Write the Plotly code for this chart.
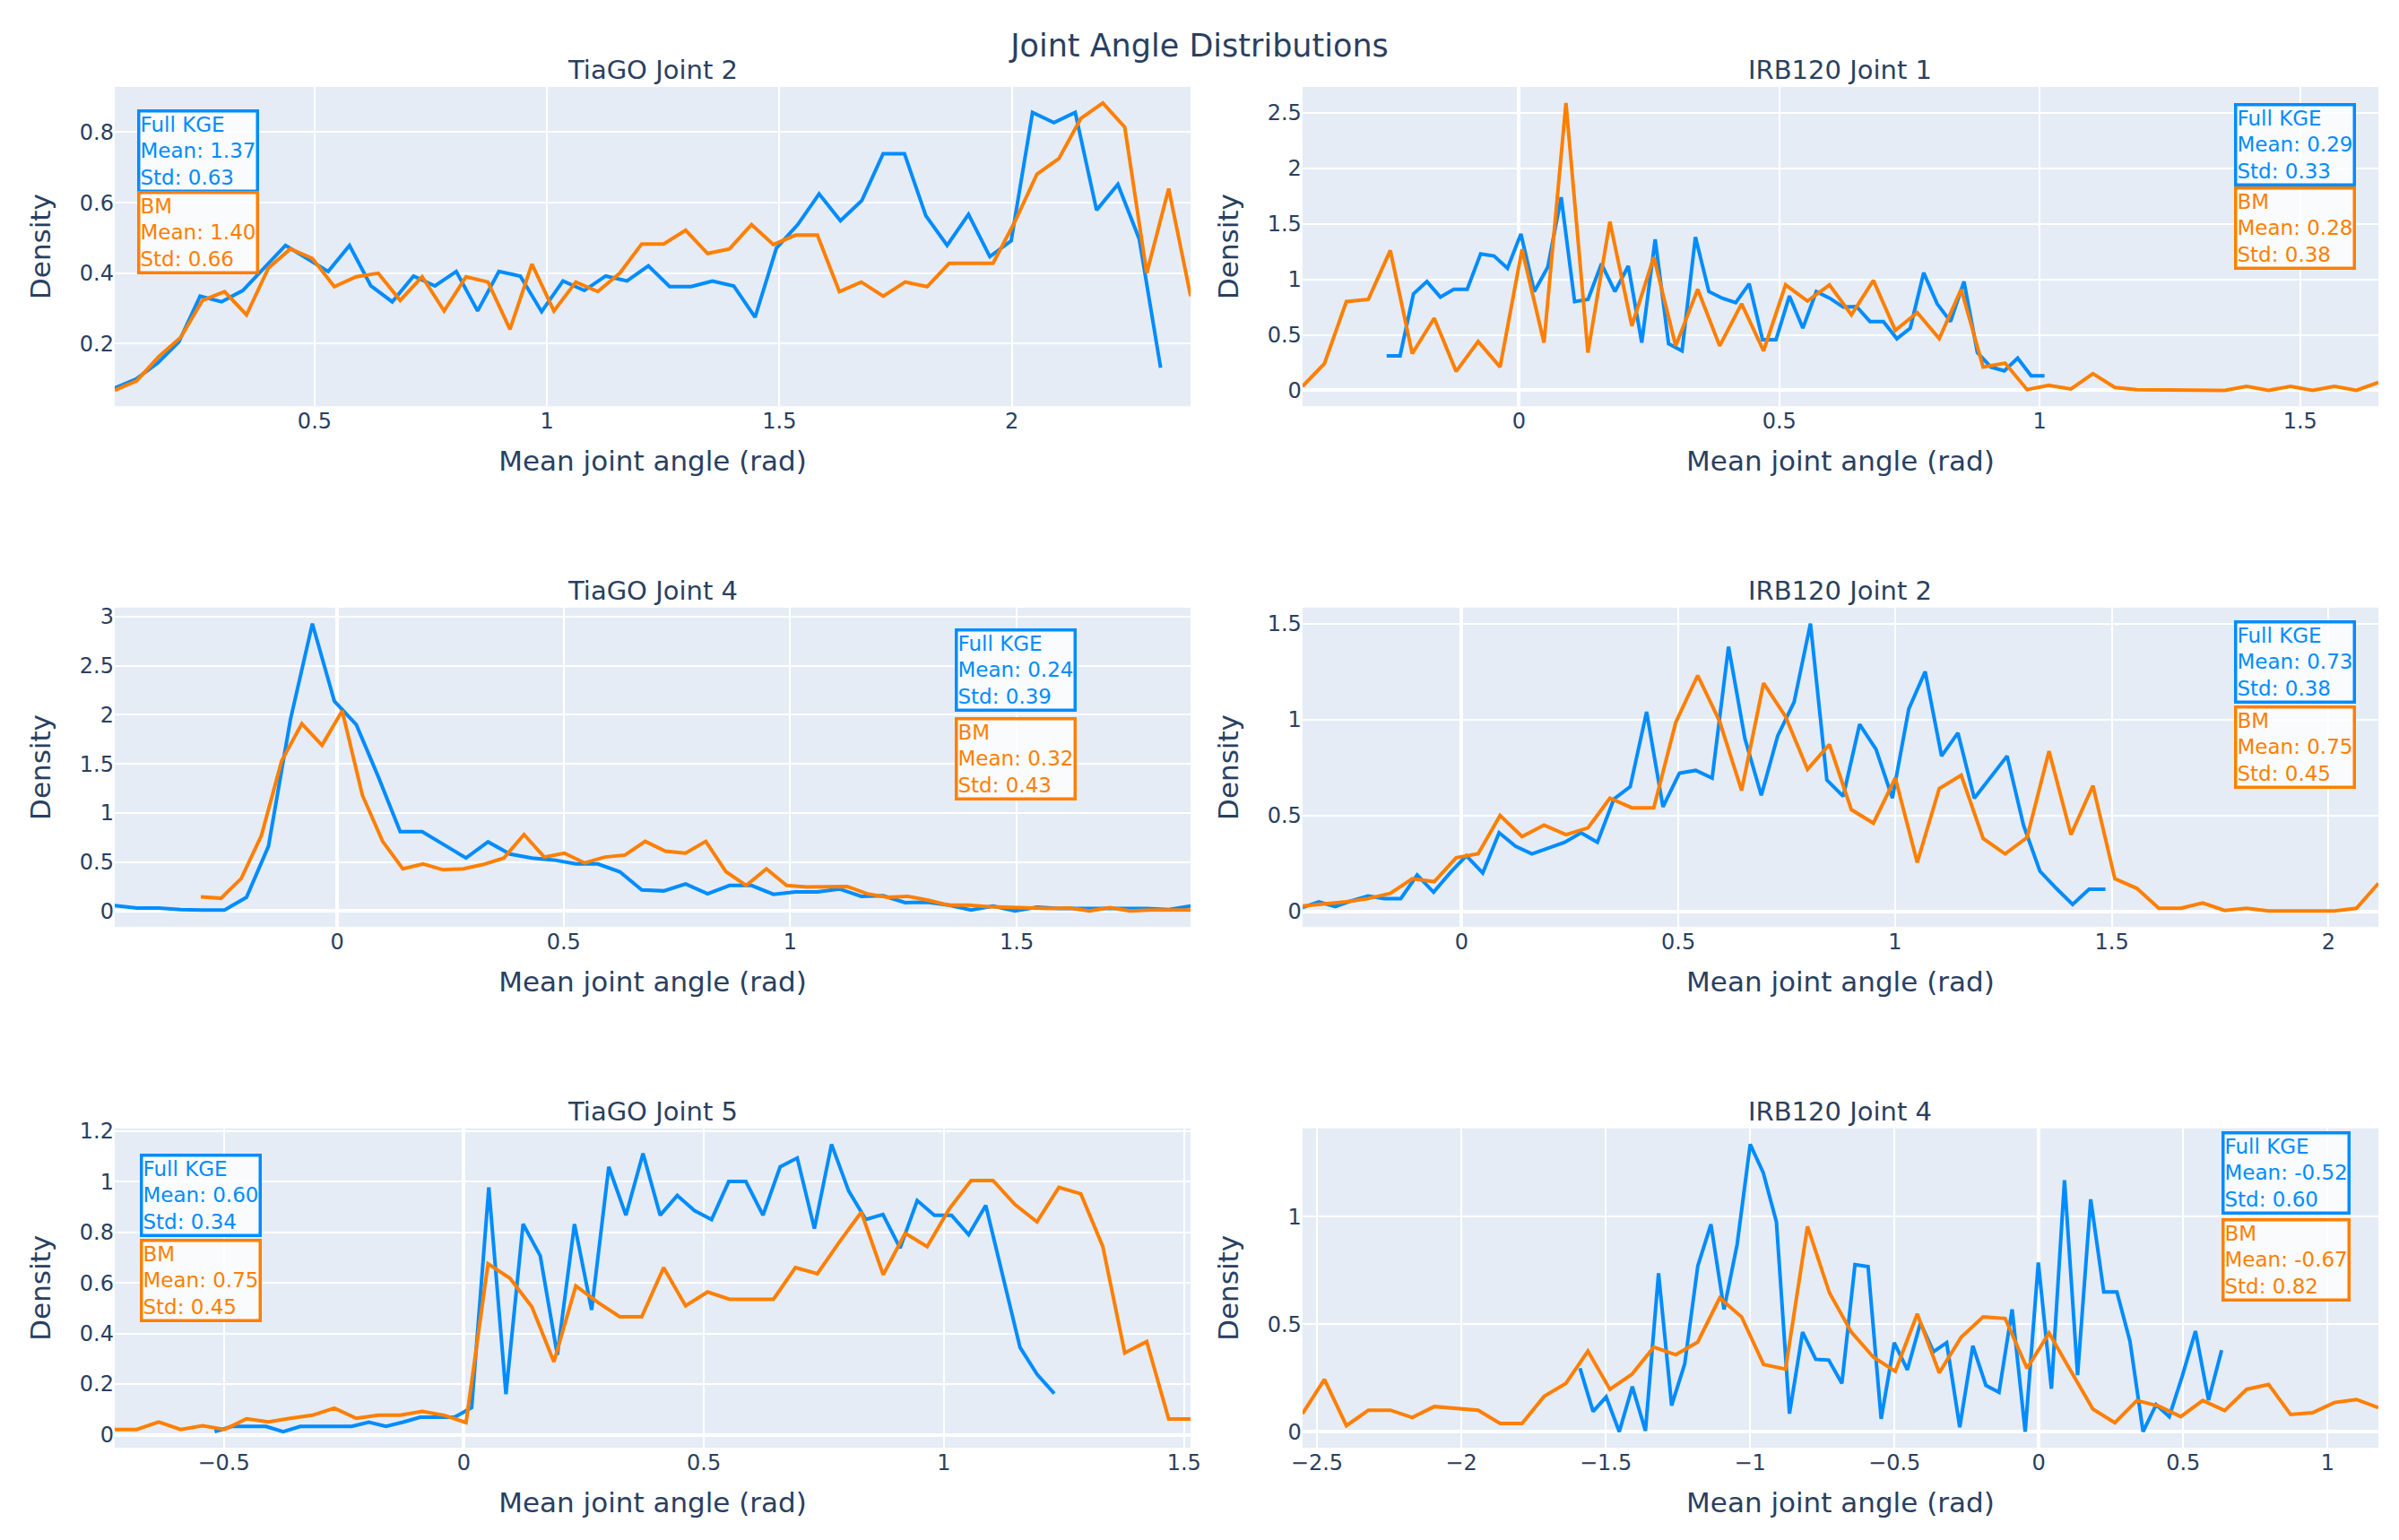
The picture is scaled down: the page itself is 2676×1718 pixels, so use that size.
import plotly.graph_objects as go
from plotly.subplots import make_subplots

# ---------------- data ----------------
subplot_titles = ["TiaGO Joint 2", "IRB120 Joint 1", "TiaGO Joint 4",
                  "IRB120 Joint 2", "TiaGO Joint 5", "IRB120 Joint 4"]
series_names = ["Full KGE", "BM"]

# histogram bin centres: first centre and bin width per series
kge_x0 = [0.070, -0.254, -0.491, -0.367, -0.519, -1.589]
kge_dx = [0.04592, 0.02578, 0.04847, 0.0378, 0.03569, 0.04535]
bm_x0 = [0.070, -0.4156, -0.301, -0.367, -0.727, -2.550]
bm_dx = [0.04724, 0.04216, 0.04459, 0.05065, 0.04573, 0.07604]

tiago_j2_kge = [0.074, 0.10, 0.145, 0.205, 0.335, 0.319, 0.351, 0.415, 0.479, 0.442,
                0.405, 0.479, 0.364, 0.319, 0.392, 0.364, 0.405, 0.293, 0.405, 0.392,
                0.291, 0.378, 0.351, 0.392, 0.378, 0.421, 0.362, 0.362, 0.378, 0.364,
                0.275, 0.471, 0.538, 0.625, 0.549, 0.606, 0.739, 0.739, 0.563, 0.479,
                0.567, 0.447, 0.492, 0.856, 0.827, 0.856, 0.579, 0.652, 0.497, 0.132]
tiago_j2_bm = [0.068, 0.095, 0.163, 0.218, 0.323, 0.348, 0.282, 0.415, 0.469, 0.442,
               0.362, 0.39, 0.40, 0.323, 0.39, 0.293, 0.39, 0.375, 0.241, 0.426,
               0.293, 0.375, 0.348, 0.40, 0.483, 0.483, 0.522, 0.456, 0.469, 0.538,
               0.481, 0.508, 0.508, 0.348, 0.375, 0.335, 0.375, 0.362, 0.428, 0.428,
               0.428, 0.547, 0.681, 0.725, 0.839, 0.883, 0.814, 0.40, 0.640, 0.335]

irb_j1_kge = [0.31, 0.31, 0.87, 0.98, 0.84, 0.91, 0.91, 1.23, 1.21, 1.10,
              1.41, 0.89, 1.11, 1.74, 0.80, 0.82, 1.14, 0.89, 1.12, 0.43,
              1.36, 0.42, 0.355, 1.38, 0.89, 0.83, 0.79, 0.96, 0.455, 0.455,
              0.85, 0.56, 0.89, 0.83, 0.75, 0.755, 0.62, 0.62, 0.465, 0.56,
              1.06, 0.78, 0.62, 0.98, 0.34, 0.21, 0.175, 0.29, 0.13, 0.13]
irb_j1_bm = [0.035, 0.24, 0.80, 0.82, 1.26, 0.33, 0.65, 0.17, 0.44, 0.21,
             1.27, 0.43, 2.59, 0.34, 1.52, 0.58, 1.20, 0.40, 0.91, 0.40,
             0.78, 0.355, 0.95, 0.805, 0.95, 0.68, 0.99, 0.54, 0.70, 0.465,
             0.91, 0.21, 0.245, 0.006, 0.045, 0.012, 0.15, 0.026, 0.006, 0.005,
             0.005, 0.005, 0.0, 0.035, 0.0, 0.035, 0.0, 0.035, 0.0, 0.07]

tiago_j4_kge = [0.055, 0.03, 0.03, 0.015, 0.01, 0.01, 0.14, 0.66, 1.95, 2.93,
                2.14, 1.90, 1.37, 0.81, 0.81, 0.675, 0.54, 0.705, 0.58, 0.54,
                0.52, 0.48, 0.48, 0.40, 0.215, 0.205, 0.275, 0.175, 0.26, 0.26,
                0.17, 0.195, 0.195, 0.225, 0.15, 0.155, 0.085, 0.09, 0.06, 0.01,
                0.05, 0.0, 0.04, 0.025, 0.025, 0.025, 0.025, 0.025, 0.015, 0.05]
tiago_j4_bm = [0.145, 0.13, 0.33, 0.77, 1.53, 1.91, 1.69, 2.04, 1.18, 0.71,
               0.43, 0.48, 0.42, 0.43, 0.475, 0.54, 0.78, 0.55, 0.59, 0.49,
               0.55, 0.57, 0.71, 0.61, 0.59, 0.71, 0.40, 0.26, 0.43, 0.26,
               0.245, 0.245, 0.25, 0.175, 0.14, 0.15, 0.11, 0.06, 0.06, 0.045,
               0.04, 0.03, 0.025, 0.03, 0.0, 0.035, 0.0, 0.01, 0.01, 0.01]

irb_j2_kge = [0.02, 0.05, 0.025, 0.055, 0.08, 0.067, 0.067, 0.19, 0.10, 0.20,
              0.29, 0.20, 0.41, 0.34, 0.30, 0.33, 0.36, 0.41, 0.36, 0.585,
              0.65, 1.04, 0.545, 0.72, 0.735, 0.695, 1.38, 0.90, 0.605, 0.915,
              1.09, 1.50, 0.685, 0.60, 0.975, 0.845, 0.59, 1.055, 1.25, 0.81,
              0.93, 0.59, 0.70, 0.81, 0.45, 0.21, 0.12, 0.036, 0.115, 0.115]
irb_j2_bm = [0.028, 0.04, 0.05, 0.067, 0.094, 0.17, 0.155, 0.28, 0.30, 0.50,
             0.39, 0.45, 0.40, 0.435, 0.59, 0.54, 0.54, 0.985, 1.23, 0.99,
             0.63, 1.19, 1.015, 0.74, 0.87, 0.53, 0.46, 0.695, 0.255, 0.64,
             0.71, 0.38, 0.30, 0.385, 0.835, 0.40, 0.655, 0.17, 0.12, 0.016,
             0.016, 0.044, 0.005, 0.016, 0.002, 0.002, 0.002, 0.002, 0.016, 0.146]

tiago_j5_kge = [0.012, 0.033, 0.033, 0.033, 0.012, 0.033, 0.033, 0.033, 0.033, 0.05,
                0.033, 0.05, 0.069, 0.069, 0.069, 0.107, 0.977, 0.16, 0.832, 0.707,
                0.315, 0.832, 0.493, 1.058, 0.867, 1.111, 0.867, 0.945, 0.885, 0.85,
                1.0, 1.0, 0.867, 1.058, 1.093, 0.814, 1.147, 0.963, 0.85, 0.87,
                0.737, 0.925, 0.867, 0.867, 0.79, 0.906, 0.618, 0.345, 0.238, 0.163]
tiago_j5_bm = [0.021, 0.021, 0.05, 0.021, 0.036, 0.021, 0.063, 0.051, 0.065, 0.077,
               0.105, 0.065, 0.077, 0.077, 0.092, 0.077, 0.048, 0.675, 0.618, 0.505,
               0.288, 0.588, 0.523, 0.466, 0.466, 0.66, 0.509, 0.564, 0.535, 0.535,
               0.535, 0.66, 0.636, 0.761, 0.879, 0.632, 0.796, 0.743, 0.891, 1.004,
               1.004, 0.909, 0.841, 0.977, 0.951, 0.743, 0.323, 0.368, 0.062, 0.062]

irb_j4_kge = [0.295, 0.094, 0.162, 0.0, 0.21, 0.004, 0.737, 0.122, 0.316, 0.772,
              0.965, 0.569, 0.871, 1.337, 1.204, 0.976, 0.084, 0.463, 0.337, 0.333,
              0.225, 0.777, 0.768, 0.06, 0.414, 0.288, 0.506, 0.372, 0.414, 0.021,
              0.40, 0.215, 0.183, 0.569, 0.0, 0.787, 0.20, 1.17, 0.263, 1.081,
              0.65, 0.65, 0.421, 0.0, 0.126, 0.07, 0.26, 0.468, 0.147, 0.379]
irb_j4_bm = [0.084, 0.243, 0.028, 0.10, 0.10, 0.066, 0.117, 0.108, 0.10, 0.038,
             0.038, 0.164, 0.225, 0.375, 0.197, 0.267, 0.393, 0.358, 0.417, 0.622,
             0.534, 0.313, 0.291, 0.955, 0.646, 0.463, 0.347, 0.281, 0.548, 0.274,
             0.44, 0.534, 0.527, 0.295, 0.459, 0.281, 0.105, 0.042, 0.145, 0.119,
             0.07, 0.145, 0.098, 0.197, 0.22, 0.08, 0.088, 0.136, 0.15, 0.112]

kge_values = [tiago_j2_kge, irb_j1_kge, tiago_j4_kge, irb_j2_kge, tiago_j5_kge, irb_j4_kge]
bm_values = [tiago_j2_bm, irb_j1_bm, tiago_j4_bm, irb_j2_bm, tiago_j5_bm, irb_j4_bm]

kge_mean = [1.37, 0.29, 0.24, 0.73, 0.60, -0.52]
kge_std = [0.63, 0.33, 0.39, 0.38, 0.34, 0.60]
bm_mean = [1.40, 0.28, 0.32, 0.75, 0.75, -0.67]
bm_std = [0.66, 0.38, 0.43, 0.45, 0.45, 0.82]

y_dtick = [0.2, 0.5, 0.5, 0.5, 0.2, 0.5]

# ---------------- styling ----------------
FONT = "DejaVu Sans"
BLUE = "rgb(0,140,255)"
ORANGE = "rgb(255,127,0)"
TXT = "#2a3f5f"

# box placement in axis-domain fractions (x, xanchor, y_kge, y_bm)
box_pos = [(0.0206, "left", 0.931, 0.674),
           (0.979, "right", 0.9495, 0.6875),
           (0.781, "left", 0.9345, 0.658),
           (0.979, "right", 0.96, 0.695),
           (0.0235, "left", 0.922, 0.654),
           (0.974, "right", 0.99, 0.719)]

fig = make_subplots(rows=3, cols=2, subplot_titles=subplot_titles,
                    horizontal_spacing=0.0494, vertical_spacing=0.148)

for i in range(6):
    r, c = i // 2 + 1, i % 2 + 1
    fig.add_trace(go.Scatter(y=kge_values[i], x0=kge_x0[i], dx=kge_dx[i], mode="lines",
                             name=series_names[0], line=dict(color=BLUE, width=4),
                             showlegend=False), row=r, col=c)
    fig.add_trace(go.Scatter(y=bm_values[i], x0=bm_x0[i], dx=bm_dx[i], mode="lines",
                             name=series_names[1], line=dict(color=ORANGE, width=4),
                             showlegend=False), row=r, col=c)
    fig.update_xaxes(dtick=0.5, tick0=0, row=r, col=c)
    fig.update_yaxes(dtick=y_dtick[i], tick0=0, row=r, col=c)

    sfx = "" if i == 0 else str(i + 1)
    bx, anchor, yk, yb = box_pos[i]
    for text, yv, col in [
        (f"{series_names[0]}<br>Mean: {kge_mean[i]:.2f}<br>Std: {kge_std[i]:.2f}", yk, BLUE),
        (f"{series_names[1]}<br>Mean: {bm_mean[i]:.2f}<br>Std: {bm_std[i]:.2f}", yb, ORANGE),
    ]:
        fig.add_annotation(text=text, xref=f"x{sfx} domain", yref=f"y{sfx} domain",
                           x=bx, y=yv, xanchor=anchor, yanchor="top", showarrow=False,
                           align="left", font=dict(family=FONT, size=23, color=col),
                           bgcolor="rgba(255,255,255,0.8)", bordercolor=col,
                           borderwidth=3.5, borderpad=0)

# subplot title fonts
for ann in fig.layout.annotations:
    if ann.text in subplot_titles:
        ann.font = dict(family=FONT, size=29, color=TXT)

fig.update_xaxes(title_text="Mean joint angle (rad)",
                 title_font=dict(family=FONT, size=31, color=TXT),
                 title_standoff=20,
                 tickfont=dict(family=FONT, size=24, color=TXT),
                 gridwidth=1.5, zerolinewidth=4)
fig.update_yaxes(title_text="Density",
                 title_font=dict(family=FONT, size=31, color=TXT),
                 title_standoff=22,
                 tickfont=dict(family=FONT, size=24, color=TXT),
                 gridwidth=1.5, zerolinewidth=4)

fig.update_layout(
    width=2676, height=1718,
    template="plotly",
    title=dict(text="Joint Angle Distributions", x=0.5, xanchor="center",
               y=0.9703, yanchor="middle",
               font=dict(family=FONT, size=35, color=TXT)),
    font=dict(family=FONT, color=TXT),
    margin=dict(l=128, r=23, t=97, b=103),
    showlegend=False,
)

fig.write_html("out.html", config={"displayModeBar": False},
               post_script="document.body.style.margin='0';document.body.style.overflow='hidden';")
